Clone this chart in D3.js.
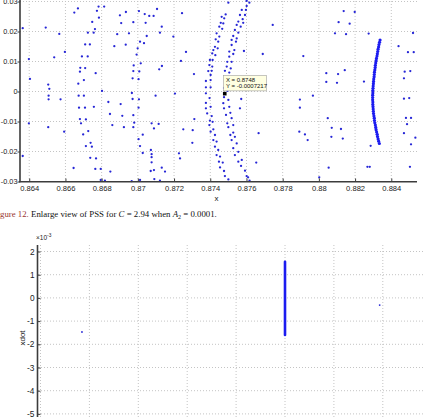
<!DOCTYPE html>
<html><head><meta charset="utf-8">
<script src="https://cdn.jsdelivr.net/npm/d3@7/dist/d3.min.js"></script>
<style>body{margin:0;background:#fff}svg{display:block}</style>
</head><body>
<svg id="c" width="424" height="417"></svg>
<script>
// ---------- data ----------
const topXTicks = [0.864,0.866,0.868,0.87,0.872,0.874,0.876,0.878,0.88,0.882,0.884];
const topYTicks = [0.03,0.02,0.01,0,-0.01,-0.02,-0.03];
const botXTicks = [0.86,0.865,0.87,0.875,0.88,0.885,0.89,0.895];
const botYTicks = [0.002,0.001,0,-0.001,-0.002,-0.003,-0.004,-0.005];

const scatterPts = [
[0.86364,0.0211],[0.86491,0.0213],[0.86566,0.0192],[0.86597,0.0132],[0.86538,0.0114],[0.86398,0.0108],[0.86404,0.0042],[0.86505,0.0023],[0.86511,0.0009],[0.86507,-0.0014],[0.86507,-0.0026],[0.86573,-0.0026],
[0.86649,0.0263],[0.86669,0.0277],[0.86783,0.0283],[0.86814,0.0283],[0.86774,0.0269],[0.86785,0.0246],[0.86748,0.0232],[0.86763,0.0208],[0.86724,0.0196],[0.86756,0.0196],[0.86709,0.0157],[0.86735,0.0157],[0.86691,0.0117],[0.86723,0.0117],[0.86682,0.0079],[0.86709,0.0078],[0.8668,0.0066],[0.86767,0.0061],[0.86702,0.0038],[0.86671,0.0026],[0.86802,0.0002],[0.86673,-0.0014],[0.86702,-0.0014],[0.86675,-0.0054],[0.86708,-0.0054],[0.86757,-0.0051],
[0.86901,0.0254],[0.86934,0.0265],[0.87006,0.0268],[0.87038,0.0258],[0.87063,0.0252],[0.87087,0.0252],[0.87106,0.0275],[0.86908,0.0228],[0.86975,0.0231],[0.87043,0.0229],[0.87132,0.0216],[0.86886,0.0191],[0.86951,0.0194],[0.87122,0.0196],[0.87049,0.0185],[0.87012,0.0166],[0.86933,0.0156],[0.8687,0.0151],[0.86999,0.0144],[0.86993,0.0123],[0.87034,0.0161],[0.87016,0.0094],[0.86977,0.0087],[0.87118,0.0074],[0.87133,0.0085],[0.86975,0.0068],[0.87008,0.0067],[0.86971,0.0044],[0.87004,0.0041],
[0.87244,0.0261],[0.87196,0.0183],[0.87266,0.0132],[0.87238,0.0102],[0.8731,0.0058],[0.86967,-0.0005],[0.87098,-0.0014],[0.87205,-0.0007],[0.86971,-0.0025],[0.87006,-0.0026],[0.86837,-0.0035],[0.86905,-0.0042],[0.87004,-0.0054],
[0.86398,-0.0106],[0.86364,-0.0215],[0.86505,-0.0119],[0.86593,-0.0134],[0.8668,-0.0092],[0.86713,-0.0093],[0.86686,-0.0106],[0.86698,-0.0143],[0.86726,-0.0132],[0.86739,-0.0171],[0.86713,-0.0182],[0.86746,-0.0184],[0.86737,-0.0221],[0.86769,-0.0223],[0.86645,-0.0255],[0.86765,-0.0258],[0.86795,-0.0258],[0.86795,-0.0295],[0.86818,-0.0297],[0.86848,-0.0267],[0.86846,-0.0075],[0.86914,-0.0081],[0.86859,-0.0112],[0.86923,-0.0119],[0.86975,-0.0079],[0.86975,-0.0119],[0.8698,-0.0104],[0.87004,-0.0159],[0.87012,-0.0182],[0.87027,-0.0144],[0.87027,-0.0205],[0.87076,-0.0106],[0.87089,-0.0123],[0.87115,-0.0108],[0.87072,-0.0195],[0.87076,-0.0209],[0.87076,-0.0219],[0.87076,-0.0236],[0.87071,-0.0265],[0.87089,-0.0262],[0.87132,-0.0254],[0.8715,-0.0267],[0.87091,-0.0292],[0.87122,-0.0297],[0.87012,-0.0295],[0.86966,-0.0299],[0.87227,-0.0206],[0.87233,-0.0223],[0.87251,-0.0126],[0.87303,-0.0129],[0.87301,-0.0171],[0.87312,-0.0092],
[0.87745,0.0222],[0.8769,0.0125],[0.87914,0.0118],[0.87586,0.0135],[0.88137,0.0268],[0.88198,0.0265],[0.88109,0.0231],[0.8817,0.0226],[0.88089,0.0194],[0.8815,0.0191],[0.88275,0.0193],[0.8852,0.0195],[0.8844,0.0151],[0.88492,0.0131],[0.88524,0.0131],[0.88041,0.0061],[0.88106,0.0058],[0.88143,0.0071],[0.88041,0.0032],[0.881,0.0029],[0.88249,0.0033],[0.88474,0.0066],[0.88505,0.0068],[0.8847,0.0044],[0.87967,-0.0014],[0.87895,-0.0027],[0.87895,-0.0054],[0.87571,-0.0025],[0.87564,-0.0056],[0.8847,-0.0024],[0.88499,-0.0022],[0.88481,-0.0088],[0.88509,-0.0088],[0.88487,-0.0109],[0.8847,-0.0139],[0.88533,-0.0154],[0.88509,-0.0176],[0.88286,-0.0181],[0.88071,-0.0121],[0.88122,-0.0125],[0.88132,-0.0157],[0.88069,-0.0151],[0.88268,-0.0251],[0.88281,-0.0251],[0.88503,-0.0251],[0.88054,-0.0254],[0.87667,-0.0139],[0.87654,-0.0237],[0.87892,-0.0134],[0.87923,-0.0143],[0.87938,-0.0162],[0.88049,-0.0089],[0.88002,-0.0286]
];

const leftArcPts = [
[0.875,0.0296],[0.87485,0.0257],[0.87463,0.0249],[0.87477,0.0244],[0.87458,0.0229],[0.87472,0.0227],[0.8745,0.0216],[0.87466,0.0209],[0.87435,0.0194],[0.8745,0.0183],[0.8743,0.0174],[0.87444,0.0166],[0.87426,0.0149],[0.87441,0.0144],[0.87417,0.0138],[0.87411,0.0127],[0.87428,0.0121],[0.87398,0.0105],[0.87413,0.0105],[0.87395,0.0088],[0.87411,0.0083],[0.87389,0.0068],[0.87408,0.0069],[0.87402,0.0055],[0.87376,0.0035],[0.87402,0.0038],[0.87376,0.0014],[0.87402,0.0014],[0.87376,-0.0006],[0.87396,-0.0022],[0.87376,-0.0038],[0.87402,-0.0051],[0.87376,-0.0056],[0.87383,-0.0073],[0.87408,-0.0082],[0.87398,-0.0097],[0.87413,-0.0101],[0.87395,-0.0112],[0.87417,-0.0126],[0.87402,-0.0134],[0.87426,-0.0145],[0.87417,-0.0162],[0.87435,-0.0167],[0.87426,-0.0184],[0.87444,-0.0195],[0.87435,-0.0212],[0.87454,-0.0217],[0.87448,-0.0234],[0.87469,-0.0237],[0.87454,-0.0253],[0.87476,-0.0265],[0.87481,-0.0282],[0.875,-0.0293]
];

const rightArcPts = [
[0.87601,0.0302],[0.87616,0.0296],[0.87601,0.0285],[0.87597,0.0272],[0.87574,0.0272],[0.87592,0.0255],[0.87564,0.0255],[0.87579,0.0241],[0.87555,0.0233],[0.87582,0.0229],[0.87546,0.0222],[0.87568,0.0216],[0.87536,0.0205],[0.87555,0.0196],[0.87527,0.0185],[0.87546,0.0177],[0.87518,0.0172],[0.87542,0.0166],[0.87518,0.0155],[0.87533,0.0138],[0.87505,0.0133],[0.87527,0.0125],[0.87505,0.0116],[0.87494,0.0099],[0.87518,0.0099],[0.87491,0.0083],[0.87513,0.0077],[0.87481,0.0069],[0.87505,0.0063],[0.875,0.0049],[0.87481,0.0038],[0.875,0.0027],[0.87476,0.0012],[0.87495,0.0002],[0.87476,-0.0019],[0.875,-0.0028],[0.87472,-0.0039],[0.87505,-0.0051],[0.87476,-0.0056],[0.87511,-0.0071],[0.87487,-0.0078],[0.87518,-0.0089],[0.87494,-0.0106],[0.87527,-0.0112],[0.875,-0.0119],[0.87527,-0.0137],[0.87511,-0.0145],[0.87536,-0.0151],[0.87518,-0.0162],[0.87546,-0.0173],[0.87527,-0.0189],[0.87555,-0.0201],[0.87536,-0.0212],[0.87574,-0.0228],[0.87555,-0.0234],[0.8757,-0.0248],[0.87592,-0.0264],[0.87601,-0.0282],[0.87609,-0.0286],[0.87617,-0.0297]
];

const bandPts = [
[0.88338,0.01717],[0.88335,0.0164],[0.88332,0.01563],[0.8833,0.01487],[0.88327,0.0141],[0.88325,0.01333],[0.88323,0.01257],[0.88321,0.0118],[0.88318,0.01103],[0.88316,0.01027],[0.88314,0.0095],[0.88312,0.00873],[0.88311,0.00797],[0.88309,0.0072],[0.88307,0.00643],[0.88306,0.00567],[0.88305,0.0049],[0.88303,0.00413],[0.88302,0.00337],[0.88301,0.0026],[0.883,0.00183],[0.88299,0.00107],[0.88298,0.0003],[0.88298,-0.00047],[0.88297,-0.00123],[0.88297,-0.002],[0.88297,-0.00277],[0.88298,-0.00353],[0.88298,-0.0043],[0.88299,-0.00507],[0.883,-0.00583],[0.88301,-0.0066],[0.88302,-0.00737],[0.88304,-0.00813],[0.88306,-0.0089],[0.88307,-0.00967],[0.88309,-0.01043],[0.88312,-0.0112],[0.88314,-0.01197],[0.88316,-0.01273],[0.88319,-0.0135],[0.88322,-0.01427],[0.88324,-0.01503],[0.88327,-0.0158],[0.8833,-0.01657],[0.88334,-0.01733]
];

const tipX = 0.8748, tipY = -0.0007217;

const botPtsX = [0.86424, 0.89468];
const botPtsY = [-0.00147, -0.00031];
const botLineX = [0.885, 0.885];
const botLineY = [0.00156, -0.0016];

// ---------- drawing ----------
const svg = d3.select("#c");
svg.append("rect").attr("width",424).attr("height",417).attr("fill","#fff");
const FONT = "'Liberation Sans', Arial, sans-serif";
const gridC = "#c4c4c4", axisC = "#3c3c3c", dotC = "#2626d6";

// === top chart ===
const xT = d3.scaleLinear().domain([0.86349,0.88542]).range([20,417]);
const yT = d3.scaleLinear().domain([-0.03,0.03]).range([181.5,1.5]);
const gT = svg.append("g");

gT.selectAll("line.vg").data(topXTicks).join("line")
  .attr("x1",d=>xT(d)).attr("x2",d=>xT(d)).attr("y1",-2).attr("y2",181.5)
  .attr("stroke",gridC).attr("stroke-dasharray","1,2");
gT.selectAll("line.hg").data(topYTicks).join("line")
  .attr("x1",20).attr("x2",417).attr("y1",d=>yT(d)).attr("y2",d=>yT(d))
  .attr("stroke",gridC).attr("stroke-dasharray","1,2");

const allTop = scatterPts.concat(leftArcPts, rightArcPts);
gT.selectAll("circle.p").data(allTop).join("circle")
  .attr("cx",d=>xT(d[0])).attr("cy",d=>yT(d[1])).attr("r",1.15).attr("fill",dotC);
gT.selectAll("circle.b").data(bandPts).join("circle")
  .attr("cx",d=>xT(d[0])).attr("cy",d=>yT(d[1])).attr("r",1.6).attr("fill","#1c1cf0");

// axes
const axB = d3.axisBottom(xT).tickValues(topXTicks).tickSize(-3).tickSizeOuter(0).tickPadding(4)
  .tickFormat(d=>String(d));
const gxa = gT.append("g").attr("transform","translate(0,181.5)").call(axB);
gxa.select(".domain").remove();
gxa.selectAll("text").attr("font-size",7.6);
const axL = d3.axisLeft(yT).tickValues(topYTicks).tickSize(2.5).tickSizeOuter(0).tickPadding(0)
  .tickFormat(d=>String(d));
const gya = gT.append("g").attr("transform","translate(20,0)").call(axL);
gya.select(".domain").remove();
gya.selectAll("text").attr("font-size",7.3);
[gxa,gya].forEach(g=>{
  g.selectAll("text").attr("font-family",FONT).attr("fill","#222");
  g.selectAll("line").attr("stroke",axisC);
});
gT.append("line").attr("x1",20).attr("x2",20).attr("y1",-2).attr("y2",182.3).attr("stroke",axisC).attr("stroke-width",1.6);
gT.append("line").attr("x1",19.2).attr("x2",417).attr("y1",181.7).attr("y2",181.7).attr("stroke",axisC).attr("stroke-width",1.6);
gT.append("text").attr("x",(20+417)/2-2).attr("y",201).attr("text-anchor","middle")
  .attr("font-family",FONT).attr("font-size",8).attr("fill","#222").text("x");

// data tip
const mx = xT(tipX), my = yT(tipY);
gT.append("rect").attr("x",mx-1.3).attr("y",my-18.3).attr("width",43).attr("height",15.5)
  .attr("fill","#ffffe1").attr("stroke","#a0a0a0").attr("stroke-width",0.6);
gT.append("text").attr("x",mx+1.2).attr("y",my-11.8).attr("font-family",FONT).attr("font-size",6)
  .attr("fill","#111").text("X = " + tipX);
gT.append("text").attr("x",mx+1.2).attr("y",my-5.2).attr("font-family",FONT).attr("font-size",6)
  .attr("fill","#111").text("Y = " + tipY);
gT.append("rect").attr("x",mx-1.8).attr("y",my-1.8).attr("width",3.6).attr("height",3.6).attr("fill","#000");

// === caption ===
const CAPF = "'Liberation Serif', 'DejaVu Serif', serif";
const CAPS = 8.8;
const tmp = svg.append("text").attr("font-family",CAPF).attr("font-size",CAPS).text("Fi");
const fiW = tmp.node().getComputedTextLength(); tmp.remove();
const cap = svg.append("text").attr("x",-fiW).attr("y",216.5).attr("font-family",CAPF).attr("font-size",CAPS).attr("fill","#111");
cap.append("tspan").attr("fill","#9a3431").text("Figure 12.");
cap.append("tspan").text(" Enlarge view of PSS for ");
cap.append("tspan").attr("font-style","italic").text("C");
cap.append("tspan").text(" = 2.94 when ");
cap.append("tspan").attr("font-style","italic").text("A");
cap.append("tspan").attr("font-size",6).attr("dy",2).text("2");
cap.append("tspan").attr("dy",-2).text(" = 0.0001.");

// === bottom chart ===
const xB = d3.scaleLinear().domain([0.86,0.895]).range([40.5,382.8]);
const yB = d3.scaleLinear().domain([-0.005,0.002]).range([413.9,251.5]);
const gB = svg.append("g");
gB.selectAll("line.vg").data(botXTicks).join("line")
  .attr("x1",d=>xB(d)).attr("x2",d=>xB(d)).attr("y1",245).attr("y2",420)
  .attr("stroke",gridC).attr("stroke-dasharray","1,2");
gB.selectAll("line.hg").data(botYTicks).join("line")
  .attr("x1",38).attr("x2",424).attr("y1",d=>yB(d)).attr("y2",d=>yB(d))
  .attr("stroke",gridC).attr("stroke-dasharray","1,2");

gB.append("path").datum(botLineX.map((x,i)=>[x,botLineY[i]]))
  .attr("d",d3.line().x(d=>xB(d[0])).y(d=>yB(d[1])))
  .attr("stroke","#1c1cf0").attr("stroke-width",2.6).attr("stroke-linecap","round").attr("fill","none");
gB.selectAll("circle.p").data(botPtsX.map((x,i)=>[x,botPtsY[i]])).join("circle")
  .attr("cx",d=>xB(d[0])).attr("cy",d=>yB(d[1])).attr("r",0.9).attr("fill",dotC);

const axBL = d3.axisLeft(yB).tickValues(botYTicks).tickSize(-3).tickSizeOuter(0).tickPadding(3)
  .tickFormat(d=>String(Math.round(d*1000)));
const gyb = gB.append("g").attr("transform","translate(37.5,0)").call(axBL);
gyb.select(".domain").remove();
gyb.selectAll("text").attr("font-family",FONT).attr("font-size",8.3).attr("fill","#222");
gyb.selectAll("line").attr("stroke",axisC);
gB.append("line").attr("x1",37.5).attr("x2",37.5).attr("y1",245).attr("y2",420).attr("stroke",axisC).attr("stroke-width",1.6);

const ex = gB.append("text").attr("x",36).attr("y",240).attr("font-family",FONT).attr("font-size",6.5).attr("fill","#222");
ex.append("tspan").text("×10");
ex.append("tspan").attr("font-size",4.8).attr("dy",-2.8).text("-3");

gB.append("text").attr("transform","translate(24.5,338) rotate(-90)").attr("text-anchor","middle")
  .attr("font-family",FONT).attr("font-size",8).attr("fill","#222").text("xdot");
</script>
</body></html>
